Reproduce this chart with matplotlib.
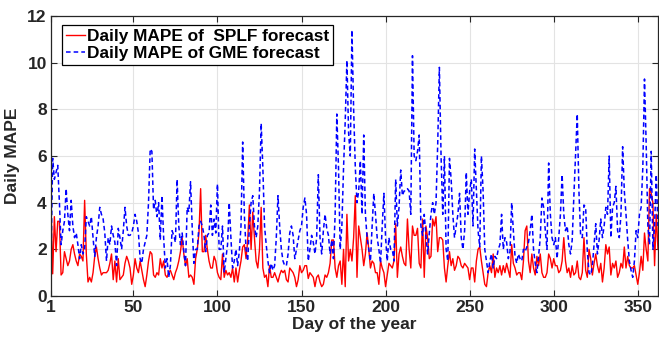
import numpy as np
import matplotlib
matplotlib.use("Agg")
import matplotlib.pyplot as plt

# Daily MAPE values (days 1..362).
splf_mape = [
    3.8, 0.95, 3.4, 1.9, 3.2, 3.2, 0.9, 1.0, 1.9, 1.6,
    1.3, 1.5, 2.0, 2.2, 1.8, 1.5, 1.3, 1.8, 1.7, 1.5,
    4.1, 1.8, 0.6, 0.8, 0.6, 1.0, 1.7, 2.1, 1.6, 1.2,
    0.9, 1.0, 1.0, 1.0, 1.1, 1.4, 1.8, 0.7, 1.5, 0.6,
    1.6, 0.7, 0.8, 0.9, 1.4, 1.7, 1.5, 1.2, 0.5, 0.9,
    1.6, 1.2, 1.0, 1.5, 1.1, 0.7, 0.4, 0.9, 1.5, 1.9,
    1.8, 0.9, 0.8, 1.0, 0.9, 1.6, 1.2, 1.5, 0.9, 0.8,
    1.0, 1.1, 0.9, 0.7, 1.0, 1.2, 1.5, 1.9, 2.5, 1.8,
    1.3, 1.6, 0.8, 0.9, 0.8, 0.5, 1.6, 2.0, 2.7, 4.6,
    1.9, 1.9, 2.6, 2.0, 1.5, 1.2, 1.2, 1.7, 1.5, 1.0,
    0.8, 0.7, 1.8, 0.8, 1.1, 0.9, 1.0, 0.8, 1.2, 0.6,
    1.2, 0.6, 1.1, 1.5, 2.1, 2.2, 1.6, 2.4, 3.9, 2.0,
    3.6, 2.5, 1.5, 1.2, 2.0, 3.8, 1.2, 0.8, 0.9, 0.4,
    1.3, 0.8, 0.8, 1.0, 0.8, 0.6, 0.9, 1.1, 1.0, 1.1,
    0.7, 0.6, 1.2, 1.1, 1.0, 0.8, 0.4, 0.7, 1.3, 1.0,
    1.1, 1.3, 1.3, 0.75, 1.0, 0.9, 0.8, 0.4, 0.8, 0.9,
    0.6, 0.4, 0.5, 0.9, 0.8, 1.0, 1.4, 2.4, 2.4, 1.2,
    0.8, 1.3, 1.5, 0.5, 2.0, 0.4, 3.5, 1.5, 2.0, 1.5,
    2.5, 4.3, 0.8, 3.0, 2.5, 2.0, 1.3, 1.8, 2.7, 2.0,
    1.2, 1.5, 1.4, 1.0, 1.0, 0.5, 1.5, 1.2, 1.0, 0.4,
    0.9, 1.4, 1.3, 1.2, 1.5, 3.1, 0.8, 1.8, 2.1, 1.7,
    1.4, 1.3, 3.3, 2.0, 1.2, 3.0, 2.6, 2.6, 2.9, 1.4,
    1.2, 3.3, 0.8, 3.0, 2.5, 1.6, 1.7, 3.3, 3.0, 3.4,
    1.9, 2.5, 2.5, 2.4, 1.2, 0.6, 1.3, 1.9, 1.3, 1.6,
    1.1, 1.3, 1.7, 1.6, 1.3, 1.2, 1.4, 1.3, 1.2, 0.7,
    1.2, 1.2, 0.6, 1.5, 2.0, 2.1, 1.5, 1.0, 0.5, 0.4,
    1.0, 1.3, 1.0, 1.8, 0.8, 1.2, 1.0, 1.3, 0.9, 1.3,
    1.0, 1.4, 1.1, 0.8, 2.2, 1.4, 1.2, 0.9, 1.0, 1.0,
    0.7, 1.5, 2.8, 3.0, 1.5, 1.0, 1.8, 1.2, 0.9, 1.7,
    1.3, 1.8, 1.0, 0.8, 0.8, 1.0, 1.8, 1.6, 1.2, 1.6,
    1.3, 1.3, 1.0, 1.1, 1.5, 2.5, 1.5, 1.0, 1.2, 0.8,
    1.3, 0.9, 1.0, 1.5, 0.8, 0.7, 1.0, 2.5, 1.1, 0.8,
    2.0, 1.6, 0.9, 1.4, 1.8, 1.3, 1.0, 1.4, 0.6, 1.2,
    2.2, 1.8, 2.1, 0.9, 1.4, 1.2, 1.5, 0.8, 1.0, 1.4,
    1.2, 2.1, 1.2, 1.7, 1.3, 1.2, 1.2, 1.3, 0.9, 0.5,
    1.0, 1.7, 1.1, 2.7, 2.0, 1.5, 4.6, 4.4, 4.0, 1.3,
    3.5, 2.0,
]

gme_mape = [
    1.5, 5.9, 5.0, 5.3, 5.6, 4.0, 2.2, 2.8, 3.2, 4.6,
    3.5, 2.8, 4.1, 3.0, 2.5, 2.7, 2.2, 1.6, 2.2, 1.8,
    2.0, 3.4, 3.2, 3.0, 3.4, 2.5, 1.7, 2.5, 3.0, 3.8,
    3.5, 3.3, 2.7, 1.5, 2.5, 2.2, 3.0, 2.6, 2.3, 1.3,
    2.9, 2.5, 2.0, 2.8, 3.8, 3.0, 2.6, 2.6, 2.7, 3.0,
    3.5, 3.2, 2.7, 1.6, 1.4, 2.0, 2.3, 2.6, 4.0, 6.3,
    6.2, 3.7, 4.1, 3.4, 4.0, 2.4, 4.3, 2.5, 1.2, 1.6,
    0.8, 1.3, 2.8, 2.6, 2.3, 5.0, 3.0, 2.2, 2.7, 1.9,
    1.3, 3.8, 3.6, 4.9, 2.9, 1.4, 2.0, 2.0, 3.0, 3.2,
    3.0, 2.6, 1.9, 2.6, 2.7, 3.9, 2.6, 3.3, 2.7, 4.8,
    2.0, 2.0, 3.0, 1.0, 1.6, 2.2, 4.0, 2.5, 1.2, 1.5,
    2.0, 1.3, 1.9, 3.0, 6.6, 3.5, 2.0, 1.5, 3.0, 4.0,
    4.3, 3.0, 2.5, 3.0, 4.5, 7.4, 5.5, 3.0, 2.2, 1.5,
    1.0, 1.4, 1.1, 1.3, 2.5, 4.3, 3.0, 2.0, 1.5, 1.3,
    1.3, 1.8, 2.7, 3.0, 2.6, 1.6, 2.0, 2.4, 2.8, 3.0,
    3.8, 4.2, 3.5, 1.5, 2.0, 2.6, 2.3, 1.8, 2.5, 5.2,
    2.5, 1.8, 2.8, 3.5, 2.9, 2.6, 1.8, 2.4, 1.6, 3.5,
    7.8, 5.5, 2.0, 3.0, 5.5, 7.5, 10.1, 7.0, 6.0, 11.4,
    8.0, 5.5, 4.0, 4.5, 5.8, 3.5, 6.9, 3.5, 2.5, 2.0,
    1.5, 3.0, 4.4, 3.5, 2.5, 2.0, 1.4, 3.0, 4.4, 2.5,
    1.5, 2.5, 2.0, 2.0, 1.5, 5.0, 3.0, 3.8, 5.4, 4.3,
    4.5, 4.5, 4.6, 4.5, 3.5, 10.3, 6.0, 5.8, 6.2, 6.9,
    3.0, 2.6, 3.5, 2.6, 1.8, 2.7, 3.5, 4.0, 3.5, 4.0,
    6.5, 9.8, 6.0, 3.5, 6.0, 2.0, 1.5, 5.9, 5.0, 3.5,
    2.5, 3.0, 3.5, 4.4, 2.5, 2.0, 2.8, 5.3, 3.5, 4.5,
    5.0, 3.0, 6.3, 4.5, 2.8, 2.1, 6.0, 4.5, 2.0, 1.5,
    1.0, 1.5, 1.8, 1.2, 1.7, 1.6, 2.0, 2.2, 3.5, 2.0,
    2.5, 2.3, 1.6, 1.9, 4.0, 2.8, 1.7, 1.4, 1.8, 1.6,
    1.5, 2.0, 1.9, 2.1, 2.3, 2.8, 3.5, 2.0, 1.4, 1.0,
    1.7, 2.5, 4.2, 3.8, 2.8, 2.0, 5.7, 3.5, 2.5, 2.2,
    2.5, 1.6, 2.5, 3.5, 5.2, 3.5, 2.8, 3.0, 2.2, 1.8,
    2.4, 4.3, 6.0, 7.8, 4.5, 2.6, 2.5, 3.9, 3.8, 1.9,
    1.0, 0.9, 1.3, 2.2, 3.1, 1.8, 2.4, 3.3, 2.5, 3.0,
    3.8, 3.5, 6.0, 2.5, 3.8, 4.0, 4.7, 2.8, 2.5, 3.5,
    6.4, 4.5, 3.5, 2.4, 1.5, 1.1, 0.8, 1.5, 2.8, 2.5,
    3.5, 3.8, 5.5, 9.3, 6.5, 3.0, 2.2, 6.2, 2.0, 3.0,
    5.2, 3.0,
]

x_ticks = [1, 50, 100, 150, 200, 250, 300, 350]
y_ticks = [0, 2, 4, 6, 8, 10, 12]

days = np.arange(1, len(splf_mape) + 1)

plt.rcParams["font.family"] = ["Liberation Sans", "DejaVu Sans"]
plt.rcParams["font.weight"] = "bold"

fig = plt.figure(figsize=(6.59, 3.41), dpi=100)
ax = fig.add_axes([0.0774, 0.132, 0.921, 0.821])

ax.plot(days, splf_mape, color="red", lw=1.0, label="Daily MAPE of  SPLF forecast")
ax.plot(days, gme_mape, color="blue", lw=1.1, linestyle=(0, (3, 2)),
        label="Daily MAPE of GME forecast")

ax.set_xlim(1, days[-1])
ax.set_ylim(0, 12)
ax.set_xticks(x_ticks)
ax.set_yticks(y_ticks)
ax.grid(True, color="#e3e3e3", lw=0.8)
ax.set_axisbelow(True)

dark = "#262626"
for s in ax.spines.values():
    s.set_color(dark)
    s.set_linewidth(0.9)
ax.tick_params(direction="in", top=True, right=True, length=4, width=0.8,
               colors=dark, labelsize=12.5, pad=3)
for lab in ax.get_xticklabels() + ax.get_yticklabels():
    lab.set_fontweight("bold")

ax.set_xlabel("Day of the year", fontsize=12.5, fontweight="bold", color=dark, labelpad=1)
ax.set_ylabel("Daily MAPE", fontsize=12.5, fontweight="bold", color=dark, labelpad=5)

leg = ax.legend(loc="upper left", bbox_to_anchor=(0.018, 0.968), borderaxespad=0,
                fancybox=False, framealpha=1, edgecolor="black",
                prop={"size": 12.4, "weight": "bold"},
                handlelength=1.1, handletextpad=0.15, labelspacing=0.15,
                borderpad=0.22)
leg.get_frame().set_linewidth(0.9)

fig.savefig("out.png", dpi=100)
